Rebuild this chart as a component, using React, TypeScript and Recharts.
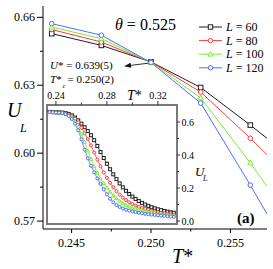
import React from 'react';
import { LineChart, Line, XAxis, YAxis, ReferenceLine, ReferenceArea, Legend } from 'recharts';

const FONT = "'Liberation Serif','Times New Roman',serif";

// ---- main panel data ----
const mainT = [0.24375, 0.246875, 0.25, 0.253125, 0.25625, 0.259375];
const mainL60 = [0.6528, 0.6476, 0.6403, 0.629, 0.6124, 0.595];
const mainL80 = [0.6546, 0.6491, 0.6402, 0.627, 0.6066, 0.585];
const mainL100 = [0.6557, 0.6506, 0.6401, 0.6244, 0.5957, 0.565];
const mainL120 = [0.6572, 0.6521, 0.64, 0.6221, 0.5859, 0.548];

// ---- inset data ----
const insetT = [
  0.235, 0.2375, 0.24, 0.2425, 0.245, 0.2475, 0.25, 0.2525, 0.255, 0.2575,
  0.26, 0.2625, 0.265, 0.2675, 0.27, 0.2725, 0.275, 0.2775, 0.28, 0.2825,
  0.285, 0.2875, 0.29, 0.2925, 0.295, 0.2975, 0.3, 0.3025, 0.305, 0.3075,
  0.31, 0.3125, 0.315, 0.3175, 0.32, 0.3225, 0.325, 0.3275, 0.33, 0.3325,
];
const insetL60 = [
  0.661, 0.66, 0.659, 0.658, 0.657, 0.654, 0.649, 0.64, 0.627, 0.61,
  0.59, 0.568, 0.545, 0.52, 0.49, 0.455, 0.418, 0.382, 0.347, 0.314,
  0.283, 0.254, 0.228, 0.204, 0.183, 0.164, 0.148, 0.134, 0.121, 0.11,
  0.1, 0.092, 0.084, 0.077, 0.071, 0.066, 0.061, 0.057, 0.053, 0.05,
];
const insetL80 = [
  0.66, 0.659, 0.658, 0.657, 0.656, 0.652, 0.645, 0.634, 0.62, 0.598,
  0.565, 0.532, 0.497, 0.458, 0.415, 0.372, 0.332, 0.295, 0.262, 0.232,
  0.205, 0.181, 0.16, 0.142, 0.127, 0.114, 0.103, 0.094, 0.086, 0.079,
  0.073, 0.068, 0.063, 0.058, 0.054, 0.05, 0.047, 0.044, 0.041, 0.038,
];
const insetL100 = [
  0.66, 0.659, 0.658, 0.657, 0.655, 0.65, 0.642, 0.627, 0.603, 0.57,
  0.528, 0.478, 0.425, 0.375, 0.33, 0.292, 0.256, 0.228, 0.202, 0.177,
  0.155, 0.137, 0.122, 0.108, 0.097, 0.088, 0.08, 0.074, 0.068, 0.063,
  0.059, 0.055, 0.052, 0.049, 0.046, 0.043, 0.04, 0.037, 0.035, 0.033,
];
const insetL120 = [
  0.66, 0.659, 0.658, 0.656, 0.654, 0.648, 0.637, 0.618, 0.59, 0.55,
  0.495, 0.432, 0.38, 0.335, 0.295, 0.258, 0.225, 0.192, 0.162, 0.135,
  0.113, 0.097, 0.085, 0.076, 0.069, 0.063, 0.058, 0.054, 0.05, 0.047,
  0.044, 0.041, 0.039, 0.037, 0.035, 0.033, 0.031, 0.029, 0.027, 0.025,
];

// ---- ticks ----
const MAIN_X_TICKS = [0.245, 0.2475, 0.25, 0.2525, 0.255];
const MAIN_X_LABELS: Record<string, string> = { '0.245': '0.245', '0.25': '0.250', '0.255': '0.255' };
const MAIN_Y_TICKS = [0.57, 0.585, 0.6, 0.615, 0.63, 0.645, 0.66];
const MAIN_Y_LABELS: Record<string, string> = { '0.57': '0.57', '0.6': '0.60', '0.63': '0.63', '0.66': '0.66' };
const INSET_X_TICKS = [0.24, 0.26, 0.28, 0.3, 0.32];
const INSET_X_LABELS: Record<string, string> = { '0.24': '0.24', '0.28': '0.28', '0.32': '0.32' };
const INSET_Y_TICKS = [0, 0.1, 0.2, 0.3, 0.4, 0.5, 0.6];
const INSET_Y_LABELS: Record<string, string> = { '0': '0.0', '0.2': '0.2', '0.4': '0.4', '0.6': '0.6' };

const SERIES = [
  { key: 'L60', size: '60', color: '#1e1e1e', shape: 'square' },
  { key: 'L80', size: '80', color: '#ff3b3b', shape: 'circle' },
  { key: 'L100', size: '100', color: '#77ee33', shape: 'triangle' },
  { key: 'L120', size: '120', color: '#4f6dff', shape: 'circle' },
];

const mainData = mainT.map((t, i) => ({ t, L60: mainL60[i], L80: mainL80[i], L100: mainL100[i], L120: mainL120[i] }));
const insetData = insetT.map((t, i) => ({ t, L60: insetL60[i], L80: insetL80[i], L100: insetL100[i], L120: insetL120[i] }));

function Marker({ cx, cy, shape, color, s }: any) {
  if (shape === 'square')
    return <rect x={cx - s} y={cy - s} width={2 * s} height={2 * s} fill="#fff" stroke={color} strokeWidth={1} />;
  if (shape === 'triangle')
    return (
      <polygon
        points={`${cx},${cy - s * 1.25} ${cx - s * 1.15},${cy + s * 0.85} ${cx + s * 1.15},${cy + s * 0.85}`}
        fill="#fff"
        stroke={color}
        strokeWidth={1}
      />
    );
  return <circle cx={cx} cy={cy} r={s} fill="#fff" stroke={color} strokeWidth={1} />;
}

const dotFn = (shape: string, color: string, s: number) => (p: any) => {
  if (p.cx == null || p.cy == null) return <g key={`e${p.index}`} />;
  return (
    <g key={`d${p.index}`}>
      <Marker cx={p.cx} cy={p.cy} shape={shape} color={color} s={s} />
    </g>
  );
};

const MainXTick = (p: any) => {
  const { x, y, payload } = p;
  const lbl = MAIN_X_LABELS[String(payload.value)];
  return (
    <g>
      <line x1={x} y1={y} x2={x} y2={y + (lbl ? 4 : 2.5)} stroke="#000" />
      {lbl && (
        <text x={x} y={y + 18} textAnchor="middle" fontSize={12} fontFamily={FONT} fill="#000">
          {lbl}
        </text>
      )}
    </g>
  );
};

const MainYTick = (p: any) => {
  const { x, y, payload } = p;
  const lbl = MAIN_Y_LABELS[String(payload.value)];
  return (
    <g>
      <line x1={x - (lbl ? 6 : 3)} y1={y} x2={x} y2={y} stroke="#000" />
      {lbl && (
        <text x={x - 8} y={y + 4} textAnchor="end" fontSize={12} fontFamily={FONT} fill="#000">
          {lbl}
        </text>
      )}
    </g>
  );
};

const InsetXTick = (p: any) => {
  const { x, y, payload } = p;
  const lbl = INSET_X_LABELS[String(payload.value)];
  return (
    <g>
      <line x1={x} y1={y} x2={x} y2={y - (lbl ? 4 : 2.5)} stroke="#333" />
      {lbl && (
        <text x={x} y={y - 6.5} textAnchor="middle" fontSize={10} fontFamily={FONT} fill="#000">
          {lbl}
        </text>
      )}
    </g>
  );
};

const InsetYTick = (p: any) => {
  const { x, y, payload } = p;
  const lbl = INSET_Y_LABELS[String(payload.value)];
  return (
    <g>
      <line x1={x} y1={y} x2={x + (lbl ? 3 : 2)} y2={y} stroke="#333" />
      {lbl && (
        <text x={x + 4.5} y={y + 3.5} textAnchor="start" fontSize={10} fontFamily={FONT} fill="#000">
          {lbl}
        </text>
      )}
    </g>
  );
};

const ArrowShape = (p: any) => {
  const { x1, y1, x2, y2 } = p;
  const dx = x1 - x2;
  const dy = y1 - y2;
  const len = Math.sqrt(dx * dx + dy * dy) || 1;
  const ux = dx / len;
  const uy = dy / len;
  const bx = x1 - ux * 7;
  const by = y1 - uy * 7;
  return (
    <g>
      <line x1={bx} y1={by} x2={x2} y2={y2} stroke="#333" strokeWidth={1} />
      <polygon points={`${x1},${y1} ${bx - uy * 2.5},${by + ux * 2.5} ${bx + uy * 2.5},${by - ux * 2.5}`} fill="#111" />
    </g>
  );
};

const LegendBox = () => (
  <svg width={75} height={60} style={{ display: 'block', overflow: 'visible' }}>
    {SERIES.map((s, i) => {
      const cy = 8 + i * 13.6;
      return (
        <g key={s.key}>
          <line x1={3} y1={cy} x2={26} y2={cy} stroke={s.color} strokeWidth={1} />
          <Marker cx={14.5} cy={cy} shape={s.shape} color={s.color} s={2.2} />
          <text x={30} y={cy + 4} fontSize={12} fontFamily={FONT} fill="#000">
            <tspan fontStyle="italic">L</tspan>
            <tspan> = {s.size}</tspan>
          </text>
        </g>
      );
    })}
  </svg>
);

const MAIN_X_DOMAIN: [number, number] = [0.2432, 0.2573];
const MAIN_Y_DOMAIN: [number, number] = [0.5665, 0.665];
const INSET_X_DOMAIN: [number, number] = [0.233, 0.335];
const INSET_Y_DOMAIN: [number, number] = [-0.018, 0.703];

export default function App() {
  return (
    <div style={{ position: 'absolute', left: 0, top: 0, width: 273, height: 269, background: '#fff' }}>
      <div style={{ position: 'absolute', left: 0, top: 0 }}>
        <LineChart width={273} height={269} data={mainData} margin={{ top: 6, right: 6, bottom: 0, left: 0 }}>
          <XAxis
            dataKey="t"
            type="number"
            domain={MAIN_X_DOMAIN}
            allowDataOverflow
            ticks={MAIN_X_TICKS}
            interval={0}
            tick={MainXTick}
            tickLine={false}
            tickSize={0}
            tickMargin={0}
            height={40}
            axisLine={{ stroke: '#000' }}
          />
          <XAxis
            xAxisId="top"
            orientation="top"
            dataKey="t"
            type="number"
            domain={MAIN_X_DOMAIN}
            allowDataOverflow
            height={0}
            tick={false}
            tickLine={false}
            axisLine={{ stroke: '#333' }}
          />
          <YAxis
            type="number"
            domain={MAIN_Y_DOMAIN}
            allowDataOverflow
            ticks={MAIN_Y_TICKS}
            interval={0}
            tick={MainYTick}
            tickLine={false}
            tickSize={0}
            tickMargin={0}
            width={43}
            axisLine={{ stroke: '#000' }}
          />
          <YAxis
            yAxisId="right"
            orientation="right"
            type="number"
            domain={MAIN_Y_DOMAIN}
            allowDataOverflow
            width={0}
            tick={false}
            tickLine={false}
            axisLine={{ stroke: '#333' }}
          />
          {SERIES.map((s) => (
            <Line
              key={s.key}
              dataKey={s.key}
              stroke={s.color}
              strokeWidth={1}
              dot={dotFn(s.shape, s.color, 2.3)}
              activeDot={false}
              isAnimationActive={false}
              type="linear"
            />
          ))}
          <ReferenceLine
            segment={[
              { x: 0.2483, y: 0.6384 },
              { x: 0.2499, y: 0.6398 },
            ]}
            ifOverflow="visible"
            shape={ArrowShape}
          />
          <Legend
            layout="horizontal"
            verticalAlign="middle"
            align="center"
            wrapperStyle={{ position: 'absolute', left: 196, top: 19, width: 75, height: 60 }}
            content={() => <LegendBox />}
          />
        </LineChart>
      </div>
      <div style={{ position: 'absolute', left: 0, top: 0 }}>
        <LineChart width={273} height={269} data={insetData} margin={{ top: 85, right: 66, bottom: 45, left: 47 }}>
          <XAxis
            dataKey="t"
            type="number"
            orientation="top"
            domain={INSET_X_DOMAIN}
            allowDataOverflow
            ticks={INSET_X_TICKS}
            interval={0}
            tick={InsetXTick}
            tickLine={false}
            tickSize={0}
            tickMargin={0}
            height={20}
            axisLine={false}
          />
          <YAxis
            type="number"
            orientation="right"
            domain={INSET_Y_DOMAIN}
            allowDataOverflow
            ticks={INSET_Y_TICKS}
            interval={0}
            tick={InsetYTick}
            tickLine={false}
            tickSize={0}
            tickMargin={0}
            width={30}
            axisLine={false}
          />
          <ReferenceArea
            x1={INSET_X_DOMAIN[0]}
            x2={INSET_X_DOMAIN[1]}
            y1={INSET_Y_DOMAIN[0]}
            y2={INSET_Y_DOMAIN[1]}
            fill="#fff"
            fillOpacity={1}
            stroke="#7a7a7a"
            strokeWidth={2}
          />
          {SERIES.map((s) => (
            <Line
              key={s.key}
              dataKey={s.key}
              stroke={s.color}
              strokeWidth={0.8}
              dot={dotFn(s.shape, s.color, 1.5)}
              activeDot={false}
              isAnimationActive={false}
              type="linear"
            />
          ))}
        </LineChart>
      </div>
      <svg
        width={273}
        height={269}
        style={{ position: 'absolute', left: 0, top: 0, pointerEvents: 'none' }}
        fontFamily={FONT}
      >
        <text x={115} y={30} fontSize={16} fill="#000">
          <tspan fontStyle="italic">θ</tspan>
          <tspan> = 0.525</tspan>
        </text>
        <text x={50} y={69} fontSize={11} fill="#000">
          <tspan fontStyle="italic">U</tspan>
          <tspan>* = 0.639(5)</tspan>
        </text>
        <text x={50} y={83} fontSize={11} fill="#000">
          <tspan fontStyle="italic">T</tspan>
          <tspan>*</tspan>
        </text>
        <text x={62.5} y={88} fontSize={7} fill="#000" fontStyle="italic">c</text>
        <text x={67.5} y={83} fontSize={11} fill="#000">= 0.250(2)</text>
        <text x={172} y={263} fontSize={20} fill="#000">
          <tspan fontStyle="italic">T</tspan>
          <tspan>*</tspan>
        </text>
        <text x={7} y={117} fontSize={20} fill="#000" fontStyle="italic">U</text>
        <text x={20} y={132} fontSize={12} fill="#000" fontStyle="italic">L</text>
        <text x={127} y={100} fontSize={14} fill="#000">
          <tspan fontStyle="italic">T</tspan>
          <tspan>*</tspan>
        </text>
        <text x={195} y={176} fontSize={13} fill="#000" fontStyle="italic">U</text>
        <text x={203} y={181} fontSize={8} fill="#000" fontStyle="italic">L</text>
        <text x={237} y={223} fontSize={15} fontWeight="bold" fill="#000">(a)</text>
      </svg>
    </div>
  );
}
